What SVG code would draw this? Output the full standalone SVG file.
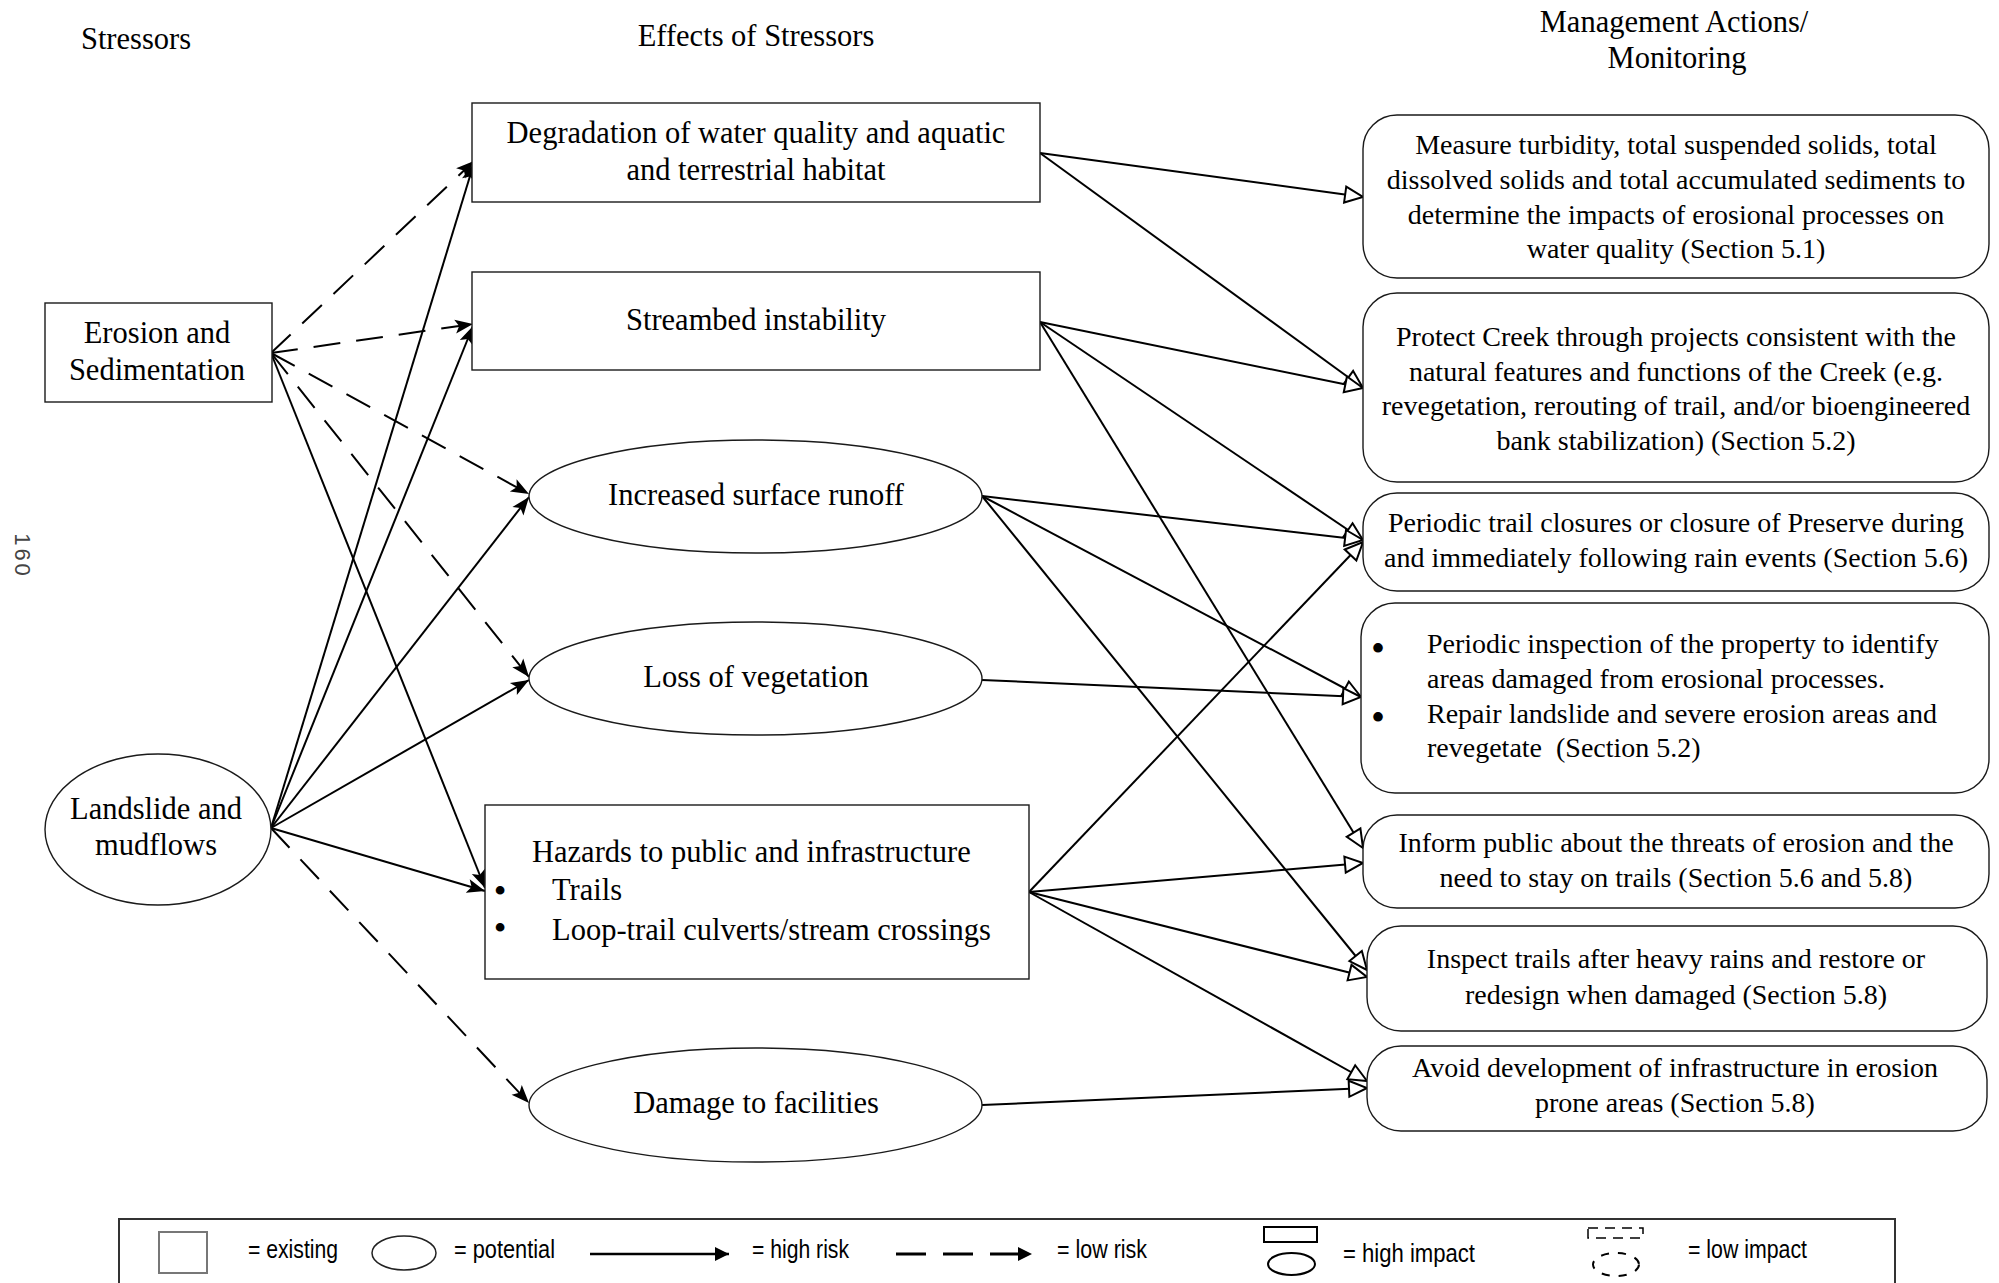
<svg xmlns="http://www.w3.org/2000/svg" width="1999" height="1283" viewBox="0 0 1999 1283">
<style>
  .t { font-family: "Liberation Serif", "Times New Roman", serif; fill: #000; }
  .h { font-size: 30.5px; text-anchor: middle; }
  .m { font-size: 30.5px; text-anchor: middle; }
  .r { font-size: 28px; text-anchor: middle; }
  .rl { font-size: 28px; }
  .b { font-size: 40px; text-anchor: middle; }
  .bs { font-size: 32px; text-anchor: middle; font-weight: bold; }
  .node { fill: #fff; stroke: #1a1a1a; stroke-width: 1.4; }
  .lg { font-family: "Liberation Sans", Arial, sans-serif; font-size: 25px; fill: #000; }
  .c { fill: none; stroke: #000; stroke-width: 2; }
  .d { stroke-dasharray: 27 16; }
</style>
<defs>
  <marker id="af" markerWidth="22" markerHeight="18" refX="18" refY="7" orient="auto" markerUnits="userSpaceOnUse" overflow="visible">
    <path d="M0,0 L18,7 L0,14 L4,7 Z" fill="#000"/>
  </marker>
  <marker id="ao" markerWidth="24" markerHeight="22" refX="20" refY="9" orient="auto" markerUnits="userSpaceOnUse" overflow="visible">
    <path d="M2,1 L20,9 L2,17 Z" fill="#fff" stroke="#000" stroke-width="2"/>
  </marker>
  <marker id="al" markerWidth="16" markerHeight="16" refX="14" refY="7" orient="auto" markerUnits="userSpaceOnUse" overflow="visible">
    <path d="M0,0 L14,7 L0,14 Z" fill="#000"/>
  </marker>
</defs>
<rect width="1999" height="1283" fill="#fff"/>

<text x="21" y="556" transform="rotate(90 21 556)" font-family="Liberation Sans, Arial, sans-serif" font-size="22" letter-spacing="3" fill="#444" text-anchor="middle" dominant-baseline="middle">160</text>

<g id="headers" class="t">
  <text class="h" x="136" y="49">Stressors</text>
  <text class="h" x="756" y="46">Effects of Stressors</text>
  <text class="h" x="1674" y="32">Management Actions/</text>
  <text class="h" x="1677" y="68">Monitoring</text>
</g>

<g id="connectors">
  <line class="c d" x1="271" y1="353" x2="474" y2="161" marker-end="url(#af)"/>
  <line class="c d" x1="271" y1="353" x2="473" y2="324" stroke-width="3" marker-end="url(#af)"/>
  <line class="c d" x1="271" y1="353" x2="529" y2="494" stroke-width="2.4" marker-end="url(#af)"/>
  <line class="c d" x1="271" y1="353" x2="529" y2="677" marker-end="url(#af)"/>
  <line class="c" x1="271" y1="353" x2="485" y2="888" stroke-width="1.8" marker-end="url(#af)"/>
  <line class="c" x1="271" y1="828" x2="474" y2="163" marker-end="url(#af)"/>
  <line class="c" x1="271" y1="828" x2="473" y2="326" marker-end="url(#af)"/>
  <line class="c" x1="271" y1="828" x2="529" y2="497" marker-end="url(#af)"/>
  <line class="c" x1="271" y1="828" x2="529" y2="680" stroke-width="2.4" marker-end="url(#af)"/>
  <line class="c" x1="271" y1="828" x2="485" y2="891" stroke-width="2.8" marker-end="url(#af)"/>
  <line class="c d" x1="271" y1="828" x2="529" y2="1103" marker-end="url(#af)"/>

  <line class="c" x1="1040" y1="153" x2="1363" y2="197" stroke-width="2.5" marker-end="url(#ao)"/>
  <line class="c" x1="1040" y1="153" x2="1363" y2="388" stroke-width="1.8" marker-end="url(#ao)"/>
  <line class="c" x1="1040" y1="322" x2="1363" y2="388" stroke-width="2.5" marker-end="url(#ao)"/>
  <line class="c" x1="1040" y1="322" x2="1363" y2="540" stroke-width="1.8" marker-end="url(#ao)"/>
  <line class="c" x1="1040" y1="322" x2="1363" y2="848" stroke-width="1.8" marker-end="url(#ao)"/>
  <line class="c" x1="982" y1="496" x2="1363" y2="540" stroke-width="2.5" marker-end="url(#ao)"/>
  <line class="c" x1="982" y1="496" x2="1361" y2="697" stroke-width="1.8" marker-end="url(#ao)"/>
  <line class="c" x1="982" y1="496" x2="1367" y2="970" stroke-width="1.8" marker-end="url(#ao)"/>
  <line class="c" x1="982" y1="680" x2="1361" y2="697" stroke-width="2.5" marker-end="url(#ao)"/>
  <line class="c" x1="1029" y1="892" x2="1363" y2="542" stroke-width="1.8" marker-end="url(#ao)"/>
  <line class="c" x1="1029" y1="892" x2="1363" y2="863" stroke-width="2.5" marker-end="url(#ao)"/>
  <line class="c" x1="1029" y1="892" x2="1367" y2="977" stroke-width="2.2" marker-end="url(#ao)"/>
  <line class="c" x1="1029" y1="892" x2="1367" y2="1081" stroke-width="2" marker-end="url(#ao)"/>
  <line class="c" x1="982" y1="1105" x2="1367" y2="1088" stroke-width="2.5" marker-end="url(#ao)"/>
</g>

<g id="erosion" class="t">
  <rect class="node" x="45" y="303" width="227" height="99"/>
  <text class="m" x="157" y="343">Erosion and</text>
  <text class="m" x="157" y="380">Sedimentation</text>
</g>
<g id="landslide" class="t">
  <ellipse class="node" cx="158" cy="829.5" rx="113" ry="75.5"/>
  <text class="m" x="156" y="819">Landslide and</text>
  <text class="m" x="156" y="855">mudflows</text>
</g>

<g id="degradation" class="t">
  <rect class="node" x="472" y="103" width="568" height="99"/>
  <text class="m" x="756" y="143">Degradation of water quality and aquatic</text>
  <text class="m" x="756" y="180">and terrestrial habitat</text>
</g>
<g id="streambed" class="t">
  <rect class="node" x="472" y="272" width="568" height="98"/>
  <text class="m" x="756" y="330">Streambed instability</text>
</g>
<g id="runoff" class="t">
  <ellipse class="node" cx="755.5" cy="496.5" rx="226.5" ry="56.5"/>
  <text class="m" x="756" y="505">Increased surface runoff</text>
</g>
<g id="vegetation" class="t">
  <ellipse class="node" cx="755.5" cy="678.5" rx="226.5" ry="56.5"/>
  <text class="m" x="756" y="687">Loss of vegetation</text>
</g>
<g id="hazards" class="t">
  <rect class="node" x="485" y="805" width="544" height="174"/>
  <text x="532" y="862" font-size="30.5">Hazards to public and infrastructure</text>
  <text class="bs" x="500" y="901">•</text>
  <text x="552" y="900" font-size="30.5">Trails</text>
  <text class="bs" x="500" y="938">•</text>
  <text x="552" y="940" font-size="30.5">Loop-trail culverts/stream crossings</text>
</g>
<g id="damage" class="t">
  <ellipse class="node" cx="755.5" cy="1105" rx="226.5" ry="57"/>
  <text class="m" x="756" y="1113">Damage to facilities</text>
</g>

<g id="measure" class="t">
  <rect class="node" x="1363" y="115" width="626" height="163" rx="34" ry="34"/>
  <text class="r" x="1676" y="154">Measure turbidity, total suspended solids, total</text>
  <text class="r" x="1676" y="189">dissolved solids and total accumulated sediments to</text>
  <text class="r" x="1676" y="224">determine the impacts of erosional processes on</text>
  <text class="r" x="1676" y="258">water quality (Section 5.1)</text>
</g>
<g id="protect" class="t">
  <rect class="node" x="1363" y="293" width="626" height="189" rx="34" ry="34"/>
  <text class="r" x="1676" y="346">Protect Creek through projects consistent with the</text>
  <text class="r" x="1676" y="381">natural features and functions of the Creek (e.g.</text>
  <text class="r" x="1676" y="415">revegetation, rerouting of trail, and/or bioengineered</text>
  <text class="r" x="1676" y="450">bank stabilization) (Section 5.2)</text>
</g>
<g id="closures" class="t">
  <rect class="node" x="1363" y="493" width="626" height="98" rx="34" ry="34"/>
  <text class="r" x="1676" y="532">Periodic trail closures or closure of Preserve during</text>
  <text class="r" x="1676" y="567">and immediately following rain events (Section 5.6)</text>
</g>
<g id="inspection" class="t">
  <rect class="node" x="1361" y="603" width="628" height="190" rx="34" ry="34"/>
  <text class="b" x="1378" y="662">•</text>
  <text class="rl" x="1427" y="653">Periodic inspection of the property to identify</text>
  <text class="rl" x="1427" y="688">areas damaged from erosional processes.</text>
  <text class="b" x="1378" y="731">•</text>
  <text class="rl" x="1427" y="723">Repair landslide and severe erosion areas and</text>
  <text class="rl" x="1427" y="757" xml:space="preserve">revegetate  (Section 5.2)</text>
</g>
<g id="inform" class="t">
  <rect class="node" x="1363" y="815" width="626" height="93" rx="34" ry="34"/>
  <text class="r" x="1676" y="852">Inform public about the threats of erosion and the</text>
  <text class="r" x="1676" y="887">need to stay on trails (Section 5.6 and 5.8)</text>
</g>
<g id="inspect" class="t">
  <rect class="node" x="1367" y="926" width="620" height="105" rx="34" ry="34"/>
  <text class="r" x="1676" y="968">Inspect trails after heavy rains and restore or</text>
  <text class="r" x="1676" y="1004">redesign when damaged (Section 5.8)</text>
</g>
<g id="avoid" class="t">
  <rect class="node" x="1367" y="1046" width="620" height="85" rx="34" ry="34"/>
  <text class="r" x="1675" y="1077">Avoid development of infrastructure in erosion</text>
  <text class="r" x="1675" y="1112">prone areas (Section 5.8)</text>
</g>

<g id="legend">
  <rect x="119" y="1219" width="1776" height="90" fill="#fff" stroke="#333" stroke-width="2"/>
  <rect x="159" y="1232" width="48" height="41" fill="#fff" stroke="#777" stroke-width="2"/>
  <text class="lg" x="248" y="1258" textLength="90" lengthAdjust="spacingAndGlyphs">= existing</text>
  <ellipse cx="404" cy="1253" rx="32" ry="17" fill="#fff" stroke="#222" stroke-width="1.5"/>
  <text class="lg" x="454" y="1258" textLength="101" lengthAdjust="spacingAndGlyphs">= potential</text>
  <line x1="590" y1="1254" x2="729" y2="1254" stroke="#000" stroke-width="2.5" marker-end="url(#al)"/>
  <text class="lg" x="752" y="1258" textLength="97" lengthAdjust="spacingAndGlyphs">= high risk</text>
  <line x1="896" y1="1254" x2="1032" y2="1254" stroke="#000" stroke-width="3" stroke-dasharray="30 17" marker-end="url(#al)"/>
  <text class="lg" x="1057" y="1258" textLength="90" lengthAdjust="spacingAndGlyphs">= low risk</text>
  <rect x="1264" y="1227" width="53" height="15" fill="#fff" stroke="#000" stroke-width="2"/>
  <ellipse cx="1291.5" cy="1264" rx="23.5" ry="11" fill="#fff" stroke="#000" stroke-width="2"/>
  <text class="lg" x="1343" y="1262" textLength="132" lengthAdjust="spacingAndGlyphs">= high impact</text>
  <rect x="1588" y="1228" width="55" height="10" fill="none" stroke="#000" stroke-width="1.5" stroke-dasharray="10 7"/>
  <ellipse cx="1616" cy="1264.5" rx="23" ry="11.5" fill="none" stroke="#000" stroke-width="2" stroke-dasharray="8 9"/>
  <text class="lg" x="1688" y="1258" textLength="119" lengthAdjust="spacingAndGlyphs">= low impact</text>
</g>
</svg>
